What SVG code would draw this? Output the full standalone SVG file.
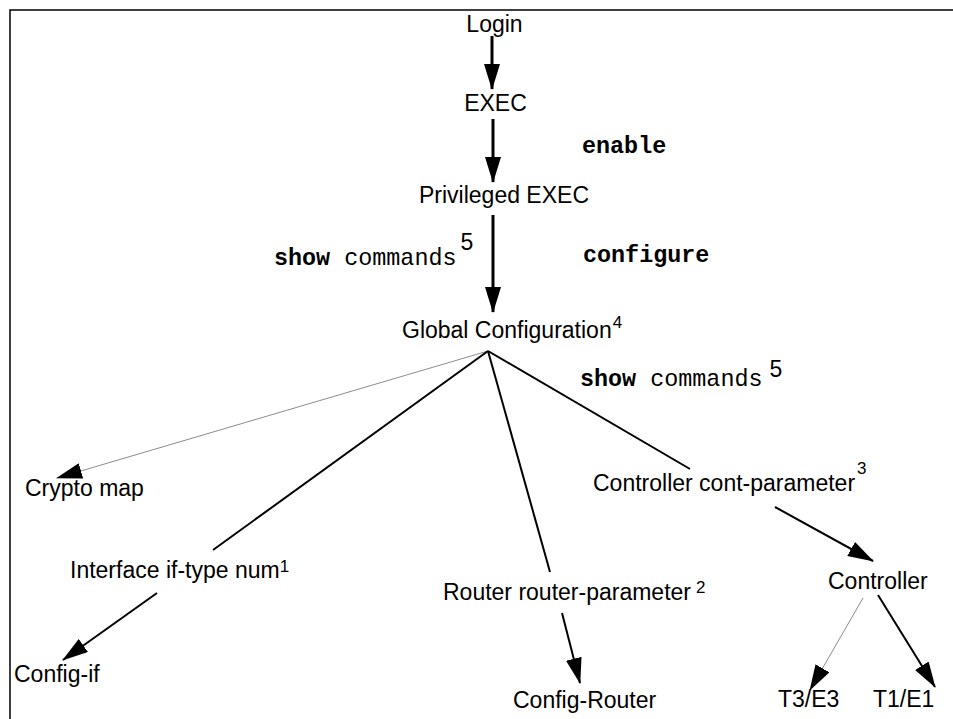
<svg xmlns="http://www.w3.org/2000/svg" width="953" height="719" viewBox="0 0 953 719">
  <style>
    .lbl { font-family: "Liberation Sans", Arial, Helvetica, sans-serif; font-size: 23px; fill: #000; }
    .sup { font-size: 17px; }
    .mono { font-family: "Liberation Mono", "Courier New", monospace; font-size: 23.4px; fill: #000; }
    .b { font-weight: bold; }
    .edge { stroke: #000; stroke-width: 2; fill: none; }
    .main { stroke: #000; stroke-width: 3; fill: none; }
    .thin { stroke: #8c8c8c; stroke-width: 1; fill: none; }
  </style>
  <defs>
    <marker id="head" markerUnits="userSpaceOnUse" markerWidth="26" markerHeight="16" refX="25" refY="8" orient="auto" viewBox="0 0 26 16">
      <path d="M0,0 L26,8 L0,16 z" fill="#000"/>
    </marker>
  </defs>

  <rect width="953" height="719" fill="#fff"/>

  <!-- frame -->
  <path d="M953,10 H10 V719" stroke="#000" stroke-width="1.5" fill="none"/>

  <g id="connectors">
    <line class="main" x1="492" y1="36" x2="492" y2="89" marker-end="url(#head)"/>
    <line class="main" x1="493" y1="119" x2="493" y2="182" marker-end="url(#head)"/>
    <line class="main" x1="493" y1="215" x2="493" y2="312" marker-end="url(#head)"/>
    <line class="thin" x1="488" y1="351" x2="57" y2="478" marker-end="url(#head)"/>
    <line class="edge" x1="488" y1="351" x2="213" y2="550"/>
    <line class="edge" x1="488" y1="351" x2="550" y2="572"/>
    <line class="edge" x1="488" y1="351" x2="690" y2="469"/>
    <line class="edge" x1="775" y1="507" x2="873" y2="561" marker-end="url(#head)"/>
    <line class="thin" x1="863" y1="598" x2="810" y2="690" marker-end="url(#head)"/>
    <line class="edge" x1="878" y1="595" x2="935" y2="687" marker-end="url(#head)"/>
    <line class="edge" x1="562" y1="613" x2="580" y2="683" marker-end="url(#head)"/>
    <line class="edge" x1="157" y1="593" x2="63" y2="660" marker-end="url(#head)"/>
    <text class="mono b" x="582" y="153">enable</text>
    <text class="mono b" x="583" y="262">configure</text>
    <text class="mono" x="274" y="265"><tspan class="b">show</tspan> commands<tspan class="lbl" font-size="18" dx="4" dy="-15">5</tspan></text>
    <text class="mono" x="580" y="386"><tspan class="b">show</tspan> commands<tspan class="lbl" font-size="16" dx="7" dy="-9">5</tspan></text>
  </g>

  <g id="login"><text class="lbl" x="494.5" y="32" text-anchor="middle">Login</text></g>
  <g id="exec"><text class="lbl" x="495.5" y="111" text-anchor="middle">EXEC</text></g>
  <g id="privileged-exec"><text class="lbl" x="504" y="203" text-anchor="middle">Privileged EXEC</text></g>
  <g id="global-configuration"><text class="lbl" x="402" y="338" font-size="21.6">Global Configuration<tspan class="sup" dx="1" dy="-10">4</tspan></text></g>
  <g id="crypto-map"><text class="lbl" x="25" y="496">Crypto map</text></g>
  <g id="interface"><text class="lbl" x="70" y="578">Interface if-type num<tspan class="sup" font-size="16" dx="0" dy="-6">1</tspan></text></g>
  <g id="router"><text class="lbl" x="443" y="600">Router router-parameter<tspan class="sup" font-size="16" dx="5" dy="-7">2</tspan></text></g>
  <g id="controller-param"><text class="lbl" x="593" y="491">Controller cont-parameter<tspan class="sup" dx="2" dy="-17">3</tspan></text></g>
  <g id="controller"><text class="lbl" x="828" y="589">Controller</text></g>
  <g id="config-if"><text class="lbl" x="14" y="682">Config-if</text></g>
  <g id="config-router"><text class="lbl" x="513" y="708">Config-Router</text></g>
  <g id="t3e3"><text class="lbl" x="778" y="707">T3/E3</text></g>
  <g id="t1e1"><text class="lbl" x="873" y="707">T1/E1</text></g>
</svg>
